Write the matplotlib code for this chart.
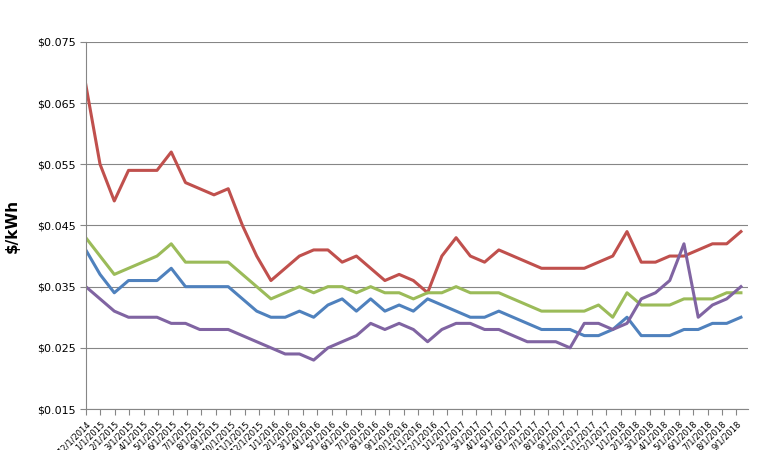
import matplotlib
matplotlib.use("Agg")
import matplotlib.pyplot as plt
import numpy as np

tick_labels = ["12/1/2014","1/1/2015","2/1/2015","3/1/2015","4/1/2015","5/1/2015","6/1/2015","7/1/2015",
 "8/1/2015","9/1/2015","10/1/2015","11/1/2015","12/1/2015","1/1/2016","2/1/2016","3/1/2016","4/1/2016",
 "5/1/2016","6/1/2016","7/1/2016","8/1/2016","9/1/2016","10/1/2016","11/1/2016","12/1/2016","1/1/2017",
 "2/1/2017","3/1/2017","4/1/2017","5/1/2017","6/1/2017","7/1/2017","8/1/2017","9/1/2017","10/1/2017",
 "11/1/2017","12/1/2017","1/1/2018","2/1/2018","3/1/2018","4/1/2018","5/1/2018","6/1/2018","7/1/2018",
 "8/1/2018","9/1/2018"]

red = [0.068,0.055,0.049,0.054,0.054,0.054,0.057,0.052,0.051,0.050,0.051,0.045,0.040,0.036,0.038,0.040,
       0.041,0.041,0.039,0.040,0.038,0.036,0.037,0.036,0.034,0.040,0.043,0.040,0.039,0.041,0.040,0.039,
       0.038,0.038,0.038,0.038,0.039,0.040,0.044,0.039,0.039,0.040,0.040,0.041,0.042,0.042,0.044]
green = [0.043,0.040,0.037,0.038,0.039,0.040,0.042,0.039,0.039,0.039,0.039,0.037,0.035,0.033,0.034,0.035,
         0.034,0.035,0.035,0.034,0.035,0.034,0.034,0.033,0.034,0.034,0.035,0.034,0.034,0.034,0.033,0.032,
         0.031,0.031,0.031,0.031,0.032,0.030,0.034,0.032,0.032,0.032,0.033,0.033,0.033,0.034,0.034]
blue = [0.041,0.037,0.034,0.036,0.036,0.036,0.038,0.035,0.035,0.035,0.035,0.033,0.031,0.030,0.030,0.031,
        0.030,0.032,0.033,0.031,0.033,0.031,0.032,0.031,0.033,0.032,0.031,0.030,0.030,0.031,0.030,0.029,
        0.028,0.028,0.028,0.027,0.027,0.028,0.030,0.027,0.027,0.027,0.028,0.028,0.029,0.029,0.030]
purple = [0.035,0.033,0.031,0.030,0.030,0.030,0.029,0.029,0.028,0.028,0.028,0.027,0.026,0.025,0.024,0.024,
          0.023,0.025,0.026,0.027,0.029,0.028,0.029,0.028,0.026,0.028,0.029,0.029,0.028,0.028,0.027,0.026,
          0.026,0.026,0.025,0.029,0.029,0.028,0.029,0.033,0.034,0.036,0.042,0.030,0.032,0.033,0.035]

fig = plt.figure(figsize=(7.8, 4.5), dpi=100)
ax = fig.add_axes([0.110, 0.091, 0.849, 0.816])
x = np.arange(len(red)) * 0.985
for s, c in [(red, "#c0504d"), (green, "#9bbb59"), (blue, "#4f81bd"), (purple, "#8064a2")]:
    ax.plot(x, s, color=c, lw=2.2)

ax.set_ylim(0.015, 0.075)
ax.set_yticks(np.arange(0.015, 0.0751, 0.01))
ax.set_yticklabels([f"${v:.3f}" for v in np.arange(0.015, 0.0751, 0.01)], fontsize=8)
ax.set_xlim(0, 45.8)
ax.set_xticks(np.arange(len(tick_labels)))
ax.set_xticklabels(tick_labels, rotation=45, ha="right", fontsize=6, rotation_mode="anchor")
ax.grid(axis="y", color="#868686", lw=0.8)
ax.set_axisbelow(True)
for sp in ["top", "right"]:
    ax.spines[sp].set_visible(False)
ax.spines["left"].set_color("#868686")
ax.spines["bottom"].set_color("#868686")
ax.tick_params(axis="y", length=4, color="#868686")
ax.tick_params(axis="x", length=4, color="#868686")
ax.set_ylabel("$/kWh", fontsize=11, fontweight="bold", labelpad=12)
fig.savefig("out.png", dpi=100)
